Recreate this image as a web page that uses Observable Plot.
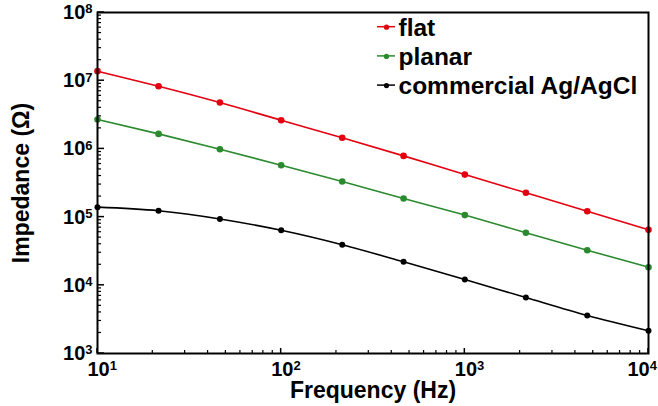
<!DOCTYPE html>
<html><head><meta charset="utf-8">
<script src="https://cdn.jsdelivr.net/npm/d3@7"></script>
<script src="https://cdn.jsdelivr.net/npm/@observablehq/plot@0.6"></script>
<style>
  body { margin: 0; background: #fff; }
  #chart { width: 658px; height: 406px; }
  #chart svg { font-family: "Liberation Sans", Arial, sans-serif; }
</style>
</head><body><div id="chart"></div>
<script>
// ---- data ----
const frequency = [10, 21.5, 46.4, 100, 215, 464, 1000, 2150, 4640, 10000];
const flat   = [1.38e7, 8.3e6, 4.79e6, 2.63e6, 1.46e6, 7.9e5, 4.2e5, 2.27e5, 1.22e5, 6.5e4];
const planar = [2.70e6, 1.66e6, 9.9e5, 5.77e5, 3.33e5, 1.87e5, 1.07e5, 5.9e4, 3.27e4, 1.84e4];
const agcl   = [1.40e5, 1.24e5, 9.4e4, 6.4e4, 3.93e4, 2.21e4, 1.22e4, 6.6e3, 3.6e3, 2.15e3];
const seriesNames  = ["flat", "planar", "commercial Ag/AgCl"];
const seriesColors = ["#e3000f", "#2b8a2e", "#000000"];
const xTicks = [10, 100, 1000, 10000];
const yTicks = [1e3, 1e4, 1e5, 1e6, 1e7, 1e8];
const xLabel = "Frequency (Hz)";
const yLabel = "Impedance (Ω)";

// ---- layout ----
const W = 658, H = 406, mL = 97, mR = 10, mT = 12, mB = 53;

// ---- derived tables ----
const seriesValues = [flat, planar, agcl];
const rows = seriesValues.flatMap((vals, i) =>
  frequency.map((f, j) => ({series: seriesNames[i], f, z: vals[j]})));
const minorOf = (majors) => majors.slice(0, -1).flatMap(m => d3.range(2, 10).map(k => m * k));
const xMinor = minorOf(xTicks);
const yMinor = minorOf(yTicks);
const pow = d => "10^" + Math.round(Math.log10(d));
const dotR = {"flat": 3.4, "planar": 3.4, "commercial Ag/AgCl": 2.8};

const legendMarks = seriesNames.flatMap((name, i) => {
  const dy = 14.7 + i * 29.2;
  return [
    Plot.dot([name], {frameAnchor: "top-left", dx: 289, dy, r: 2.6, fill: seriesColors[i], stroke: "none"}),
    Plot.text([name], {frameAnchor: "top-left", dx: 301, dy: dy + 0.5, text: d => d, textAnchor: "start",
      lineAnchor: "middle", fontSize: 24.5, fontWeight: "bold", fill: "#000"})
  ];
});

const chart = Plot.plot({
  width: W, height: H,
  marginLeft: mL, marginRight: mR, marginTop: mT, marginBottom: mB,
  x: {type: "log", domain: [10, 1e4]},
  y: {type: "log", domain: [1e3, 1e8]},
  color: {domain: seriesNames, range: seriesColors},
  marks: [
    // tick labels
    Plot.axisX({ticks: xTicks, tickSize: 0, tickPadding: 8, tickFormat: pow, label: null, fontSize: 20, fontWeight: "bold", fill: "#000"}),
    Plot.axisY({ticks: yTicks, tickSize: 0, tickPadding: 5, tickFormat: pow, label: null, fontSize: 20, fontWeight: "bold", fill: "#000"}),
    // axis titles
    Plot.text([xLabel], {frameAnchor: "bottom", dy: 37, text: d => d, textAnchor: "middle", lineAnchor: "middle",
      fontSize: 23, fontWeight: "bold", fill: "#000"}),
    Plot.text([yLabel], {frameAnchor: "left", dx: -76, rotate: -90, text: d => d, textAnchor: "middle", lineAnchor: "middle",
      fontSize: 23, fontWeight: "bold", fill: "#000"}),
    // data
    Plot.line(rows, {x: "f", y: "z", z: "series", stroke: "series", strokeWidth: 1.6, curve: "monotone-x"}),
    Plot.dot(rows, {x: "f", y: "z", fill: "series", stroke: "none", r: d => dotR[d.series]}),
    Plot.frame({stroke: "#000", strokeWidth: 2}),
    ...legendMarks
  ]
});

const sel = d3.select(chart);
const sx = chart.scale("x"), sy = chart.scale("y");
const x0 = sx.apply(10), y0 = sy.apply(1e3);

// inward tick marks, placed through Plot's own scales
const tg = sel.append("g").attr("stroke", "#000");
yMinor.forEach(v => tg.append("line").attr("x1", x0).attr("x2", x0 + 4).attr("y1", sy.apply(v)).attr("y2", sy.apply(v)).attr("stroke-width", 1.2));
yTicks.forEach(v => tg.append("line").attr("x1", x0).attr("x2", x0 + 7).attr("y1", sy.apply(v)).attr("y2", sy.apply(v)).attr("stroke-width", 1.5));
xMinor.forEach(v => tg.append("line").attr("y1", y0).attr("y2", y0 - 3).attr("x1", sx.apply(v)).attr("x2", sx.apply(v)).attr("stroke-width", 1.2));
xTicks.forEach(v => tg.append("line").attr("y1", y0).attr("y2", y0 - 5).attr("x1", sx.apply(v)).attr("x2", sx.apply(v)).attr("stroke-width", 1.5));

// legend line segments behind the legend dots
seriesNames.forEach((name, i) => {
  const cy = mT + 14.7 + i * 29.2, cx = mL + 289;
  sel.insert("line", "g[aria-label=dot]:last-of-type").attr("x1", cx - 9).attr("x2", cx + 9).attr("y1", cy).attr("y2", cy)
    .attr("stroke", seriesColors[i]).attr("stroke-width", 1.5);
});

// superscript exponents on tick labels
sel.selectAll('g[aria-label="x-axis tick label"] text, g[aria-label="y-axis tick label"] text').each(function() {
  const t = d3.select(this);
  const parts = t.text().split("^");
  if (parts.length === 2) {
    t.text(null);
    t.append("tspan").text(parts[0]);
    t.append("tspan").attr("dy", "-0.42em").attr("font-size", "13px").text(parts[1]);
  }
});
// center the "10" on each x tick; keep the last label inside the picture
const xl = sel.selectAll('g[aria-label="x-axis tick label"] text').nodes();
xl.forEach((n, i) => {
  n.setAttribute("text-anchor", "start");
  n.setAttribute("dx", i === xl.length - 1 ? -21 : -10);
});
document.getElementById("chart").appendChild(chart);
</script>
</body></html>
